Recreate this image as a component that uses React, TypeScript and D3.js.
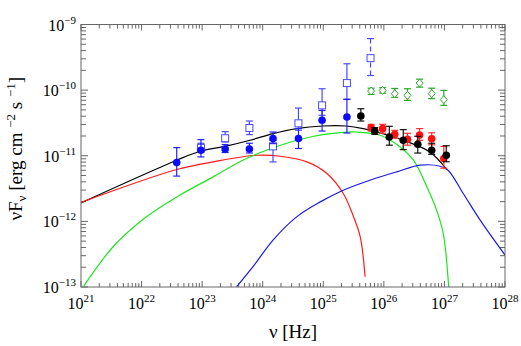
import React from "react";
import * as d3 from "d3";

// model curves as [log10 nu, log10 nuFnu]
const totalCurve = [
  [21.0, -11.718], [22.58, -11.068], [22.98, -10.927], [23.38, -10.856],
  [23.79, -10.764], [24.17, -10.662], [24.56, -10.586], [24.99, -10.547],
  [25.38, -10.547], [25.66, -10.586], [25.94, -10.653], [26.32, -10.764],
  [26.76, -10.942], [27.04, -11.21],
];
const synchCurve = [
  [21.0, -11.712], [22.58, -11.21], [23.18, -11.094], [23.9, -10.992],
  [24.29, -11.008], [24.73, -11.094], [25.06, -11.271], [25.33, -11.575],
  [25.5, -11.931], [25.61, -12.235], [25.69, -12.843],
];
const sscCurve = [
  [21.04, -12.995], [21.53, -12.387], [22.08, -11.931], [22.63, -11.601],
  [23.18, -11.322], [23.73, -11.043], [24.29, -10.84], [24.84, -10.703],
  [25.28, -10.647], [25.55, -10.638], [25.94, -10.688], [26.27, -10.866],
  [26.49, -11.068], [26.71, -11.474], [26.87, -11.829], [26.98, -12.183],
  [27.07, -13.0],
];
const ecCurve = [
  [23.57, -12.995], [23.84, -12.691], [24.17, -12.285], [24.56, -11.931],
  [24.95, -11.703], [25.33, -11.525], [25.77, -11.373], [26.21, -11.246],
  [26.6, -11.144], [26.93, -11.16], [27.06, -11.221], [27.31, -11.575],
  [27.59, -11.981], [28.0, -12.513],
];

// data points: log10 nu, flux, lower, upper
const fermiLogNu = [22.58, 22.98, 23.38, 23.78, 24.17, 24.59, 24.98, 25.39];
const fermiF = [7.9e-12, 1.21e-11, 1.27e-11, 1.27e-11, 1.83e-11, 1.83e-11, 3.47e-11, 3.9e-11];
const fermiLo = [4.9e-12, 9.6e-12, 1.12e-11, 1.1e-11, 1.53e-11, 1.29e-11, 2.38e-11, 2.22e-11];
const fermiHi = [1.33e-11, 1.76e-11, 1.48e-11, 1.55e-11, 2.3e-11, 2.6e-11, 4.9e-11, 7.2e-11];

const fermiOldLogNu = [22.98, 23.38, 23.78, 24.17, 24.59, 24.98, 25.39, 25.78];
const fermiOldF = [1.32e-11, 1.85e-11, 2.65e-11, 1.39e-11, 3.12e-11, 5.86e-11, 1.28e-10, 3.07e-10];
const fermiOldLo = [1.13e-11, 1.62e-11, 2.1e-11, 8.05e-12, 2.45e-11, 4.13e-11, 7.3e-11, 1.67e-10];
const fermiOldHi = [1.55e-11, 2.33e-11, 3.38e-11, 1.72e-11, 5.33e-11, 1.05e-10, 2.52e-10, 6.1e-10];

const hessLogNu = [25.62, 25.85, 26.09, 26.32, 26.56, 26.79, 27.03];
const hessF = [4.03e-11, 2.38e-11, 1.93e-11, 1.72e-11, 1.5e-11, 1.21e-11, 1.02e-11];
const hessLo = [3.38e-11, 2.12e-11, 1.45e-11, 1.24e-11, 1.1e-11, 1.05e-11, 8.1e-12];
const hessHi = [5.2e-11, 2.68e-11, 2.81e-11, 2.5e-11, 1.98e-11, 1.55e-11, 1.42e-11];

const redLogNu = [25.79, 25.98, 26.18, 26.39, 26.59, 26.79, 26.99];
const redF = [2.68e-11, 2.59e-11, 2.12e-11, 1.78e-11, 2.07e-11, 1.82e-11, 9.06e-12];
const redLo = [2.38e-11, 2.2e-11, 1.85e-11, 1.45e-11, 1.72e-11, 1.47e-11, 6.46e-12];
const redHi = [3.01e-11, 3.01e-11, 2.44e-11, 2.2e-11, 2.59e-11, 2.24e-11, 1.39e-11];

const greenLogNu = [25.79, 25.98, 26.18, 26.39, 26.59, 26.79, 26.99];
const greenF = [9.68e-11, 9.9e-11, 8.83e-11, 8.32e-11, 1.28e-10, 8.83e-11, 7.16e-11];
const greenLo = [8.6e-11, 9.0e-11, 7.76e-11, 6.98e-11, 1.11e-10, 7.41e-11, 5.86e-11];
const greenHi = [1.07e-10, 1.09e-10, 1.06e-10, 1.05e-10, 1.47e-10, 1.07e-10, 9.9e-11];

const xDecades = [21, 22, 23, 24, 25, 26, 27, 28];
const yDecades = [-13, -12, -11, -10, -9];

const W = 521;
const H = 346;
const L = 81, R = 505, T = 24.5, B = 287;
const axisColor = "#666";
const serif = "'Liberation Serif', 'DejaVu Serif', serif";

export default function App() {
  const x = d3.scaleLog().domain([1e21, 1e28]).range([L, R]);
  const y = d3.scaleLog().domain([1e-13, 1e-9]).range([B, T]);

  const line = d3
    .line<number[]>()
    .x((d) => x(Math.pow(10, d[0])))
    .y((d) => y(Math.pow(10, d[1])))
    .curve(d3.curveCatmullRom.alpha(0.5));

  const minorX: number[] = [];
  xDecades.slice(0, -1).forEach((e) => {
    for (let k = 2; k < 10; k++) minorX.push(k * Math.pow(10, e));
  });
  const minorY: number[] = [];
  yDecades.slice(0, -1).forEach((e) => {
    for (let k = 2; k < 10; k++) minorY.push(k * Math.pow(10, e));
  });

  const errBars = (
    logNu: number[], lo: number[], hi: number[], color: string,
    key: string, dashed = false, cap = 3.5
  ) =>
    logNu.map((ln, i) => {
      const cx = x(Math.pow(10, ln));
      return (
        <g key={key + i} stroke={color} strokeWidth={1.2}>
          <line x1={cx} x2={cx} y1={y(lo[i])} y2={y(hi[i])}
            strokeDasharray={dashed && i === logNu.length - 1 ? "5,3" : undefined} />
          <line x1={cx - cap} x2={cx + cap} y1={y(lo[i])} y2={y(lo[i])} />
          <line x1={cx - cap} x2={cx + cap} y1={y(hi[i])} y2={y(hi[i])} />
        </g>
      );
    });

  return (
    <div style={{ position: "fixed", left: 0, top: 0 }}>
      <svg width={W} height={H} style={{ display: "block", background: "white" }}>
        <defs>
          <clipPath id="plot">
            <rect x={L} y={T} width={R - L} height={B - T} />
          </clipPath>
        </defs>

        {/* ticks */}
        <g stroke={axisColor} strokeWidth={1}>
          {xDecades.map((e) => {
            const px = x(Math.pow(10, e));
            return (
              <g key={"xt" + e}>
                <line x1={px} x2={px} y1={B} y2={B - 6} />
                <line x1={px} x2={px} y1={T} y2={T + 6} />
              </g>
            );
          })}
          {minorX.map((v, i) => (
            <g key={"xm" + i}>
              <line x1={x(v)} x2={x(v)} y1={B} y2={B - 4} />
              <line x1={x(v)} x2={x(v)} y1={T} y2={T + 4} />
            </g>
          ))}
          {yDecades.map((e) => {
            const py = y(Math.pow(10, e));
            return (
              <g key={"yt" + e}>
                <line x1={L} x2={L + 7} y1={py} y2={py} />
                <line x1={R} x2={R - 7} y1={py} y2={py} />
              </g>
            );
          })}
          {minorY.map((v, i) => (
            <g key={"ym" + i}>
              <line x1={L} x2={L + 5} y1={y(v)} y2={y(v)} />
              <line x1={R} x2={R - 5} y1={y(v)} y2={y(v)} />
            </g>
          ))}
        </g>

        {/* model curves */}
        <g clipPath="url(#plot)" fill="none" strokeWidth={1.2}>
          <path d={line(totalCurve) || ""} stroke="#000" />
          <path d={line(synchCurve) || ""} stroke="#ff1a1a" />
          <path d={line(sscCurve) || ""} stroke="#1ee61e" />
          <path d={line(ecCurve) || ""} stroke="#1a1ae6" />
        </g>

        {/* data */}
        <g>
          {errBars(fermiOldLogNu, fermiOldLo, fermiOldHi, "#4a4aff", "fo", true)}
          {fermiOldLogNu.map((ln, i) => (
            <rect key={"fos" + i} x={x(Math.pow(10, ln)) - 3.5} y={y(fermiOldF[i]) - 3.5}
              width={7} height={7} fill="white" stroke="#4a4aff" strokeWidth={1} />
          ))}
          {errBars(fermiLogNu, fermiLo, fermiHi, "#2222ff", "f")}
          {fermiLogNu.map((ln, i) => (
            <circle key={"fc" + i} cx={x(Math.pow(10, ln))} cy={y(fermiF[i])} r={3.8} fill="#0a0aff" />
          ))}
          {errBars(greenLogNu, greenLo, greenHi, "#2aa82a", "g")}
          {greenLogNu.map((ln, i) => {
            const cx = x(Math.pow(10, ln));
            const cy = y(greenF[i]);
            return (
              <path key={"gd" + i}
                d={`M${cx},${cy - 4}L${cx + 3.5},${cy}L${cx},${cy + 4}L${cx - 3.5},${cy}Z`}
                fill="white" stroke="#2aa82a" strokeWidth={1} />
            );
          })}
          {errBars(redLogNu, redLo, redHi, "#ff3030", "r")}
          {redLogNu.map((ln, i) => (
            <circle key={"rc" + i} cx={x(Math.pow(10, ln))} cy={y(redF[i])} r={3.8} fill="#ff1010" />
          ))}
          {errBars(hessLogNu, hessLo, hessHi, "#111", "h")}
          {hessLogNu.map((ln, i) => (
            <circle key={"hc" + i} cx={x(Math.pow(10, ln))} cy={y(hessF[i])} r={3.8} fill="#000" />
          ))}
        </g>

        {/* frame */}
        <rect x={L} y={T} width={R - L} height={B - T} fill="none" stroke={axisColor} strokeWidth={1} />

        {/* tick labels */}
        <g fontFamily={serif} fill="#000">
          {xDecades.map((e) => (
            <text key={"xl" + e} x={x(Math.pow(10, e))} y={B + 22} fontSize={16} textAnchor="middle">
              10<tspan dy={-7} fontSize={11}>{e}</tspan>
            </text>
          ))}
          {yDecades.map((e) => (
            <text key={"yl" + e} x={L - 5} y={y(Math.pow(10, e)) + 6} fontSize={16} textAnchor="end">
              10<tspan dy={-7} fontSize={11}>{"\u2212" + Math.abs(e)}</tspan>
            </text>
          ))}
          <text x={293} y={338} fontSize={19} textAnchor="middle">
            ν [Hz]
          </text>
          <text transform={`translate(22,${(T + B) / 2 - 7}) rotate(-90)`} fontSize={19} textAnchor="middle">
            νF<tspan dy={4} fontSize={13}>ν</tspan>
            <tspan dy={-4}> [erg cm </tspan>
            <tspan dy={-7} fontSize={13}>−2</tspan>
            <tspan dy={7}> s </tspan>
            <tspan dy={-7} fontSize={13}>−1</tspan>
            <tspan dy={7}>]</tspan>
          </text>
        </g>
      </svg>
    </div>
  );
}
